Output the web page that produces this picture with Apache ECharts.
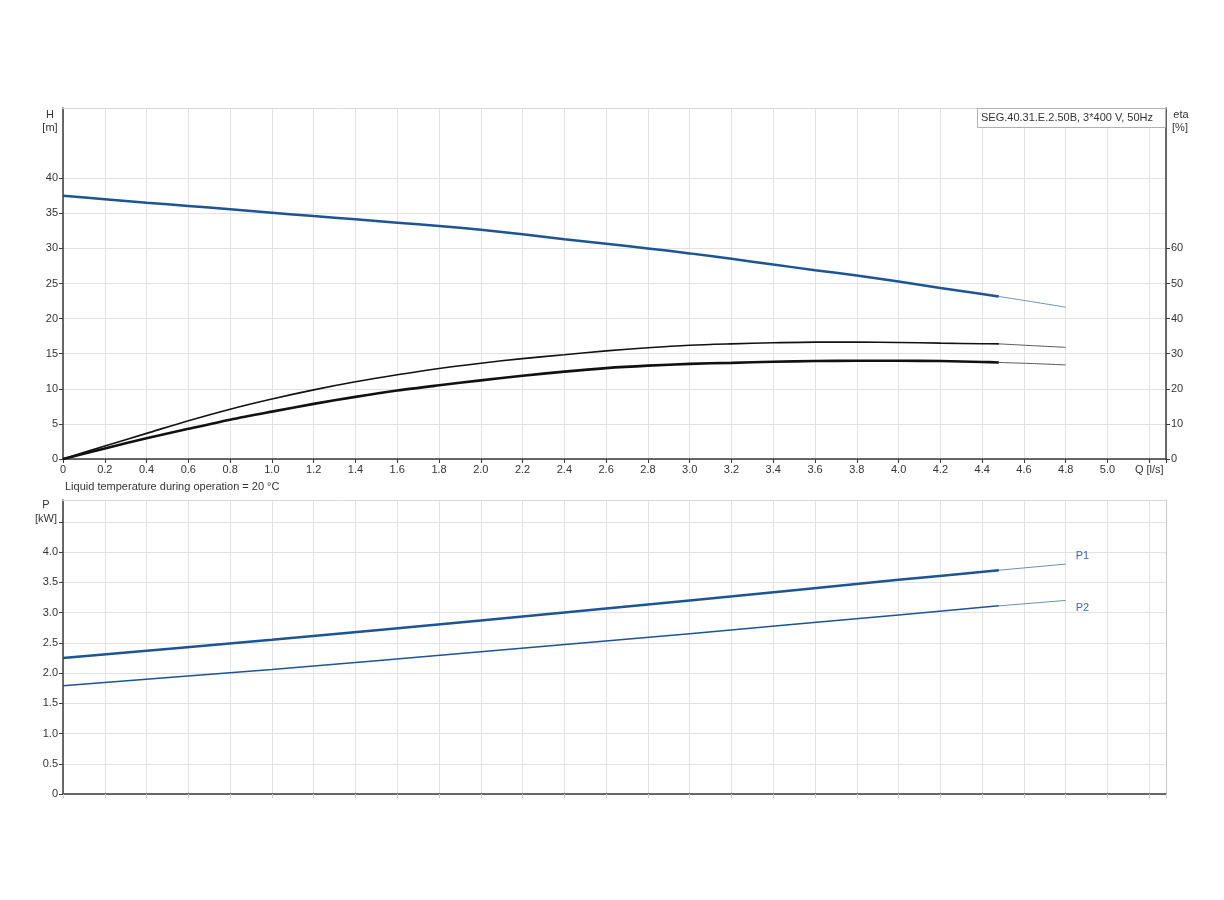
<!DOCTYPE html>
<html>
<head>
<meta charset="utf-8">
<script src="https://cdn.jsdelivr.net/npm/echarts@6/dist/echarts.min.js"></script>
<style>
html,body{margin:0;padding:0;background:#fff;}
#c{width:1224px;height:900px;}
</style>
</head>
<body>
<div id="c"></div>
<script>
// ---- data ----
const qMain = [0,0.2,0.4,0.6,0.8,1.0,1.2,1.4,1.6,1.8,2.0,2.2,2.4,2.6,2.8,3.0,3.2,3.4,3.6,3.8,4.0,4.2,4.4,4.48];
const qExt = [4.48,4.64,4.8];
const hMain = [37.5,37.0,36.5,36.05,35.57,35.09,34.6,34.14,33.66,33.19,32.65,32.0,31.3,30.66,30.0,29.29,28.51,27.7,26.9,26.14,25.29,24.37,23.51,23.15];
const hExt = [23.15,22.4,21.63];
const etaPumpMain = [0,3.7,7.3,10.9,14.2,17.1,19.7,22.0,24.0,25.8,27.3,28.6,29.7,30.8,31.7,32.4,32.8,33.1,33.3,33.3,33.2,33.0,32.85,32.8];
const etaPumpExt = [32.8,32.3,31.8];
const etaTotMain = [0,3.0,5.9,8.6,11.2,13.5,15.7,17.7,19.5,21.0,22.4,23.7,24.9,25.9,26.6,27.1,27.4,27.7,27.9,28.0,28.0,27.9,27.65,27.5];
const etaTotExt = [27.5,27.2,26.8];
const qPow = [0,1.0,2.0,3.0,4.0,4.48];
const qPowExt = [4.48,4.8];
const p1Main = [2.25,2.55,2.87,3.20,3.54,3.70];
const p1Ext = [3.70,3.80];
const p2Main = [1.79,2.06,2.35,2.65,2.96,3.11];
const p2Ext = [3.11,3.20];
const hTicks = [0,5,10,15,20,25,30,35,40];
const etaTicks = [0,10,20,30,40,50,60];
const pLabelTicks = [0,0.5,1.0,1.5,2.0,2.5,3.0,3.5,4.0];
const pTickMarks = [0,0.5,1.0,1.5,2.0,2.5,3.0,3.5,4.0,4.5];
const title = 'SEG.40.31.E.2.50B, 3*400 V, 50Hz';
const note = 'Liquid temperature during operation = 20 °C';

const zip = (a,b) => a.map((v,i)=>[v,b[i]]);
const FONT = '"Liberation Sans", Arial, sans-serif';
const BLUE = '#1d5495';
const BLUE_THIN = '#6f8fb8';
const GRID = '#e2e2e2';
const AX = '#3a3a3a';
const fmt1 = v => (Math.abs(v) < 1e-9 ? '0' : v.toFixed(1));

const chart = echarts.init(document.getElementById('c'), null, {renderer:'canvas'});

const xBase = {
  type:'value', min:0, max:5.28, interval:0.2,
  axisLine:{show:true, onZero:false, lineStyle:{color:AX, width:1.5}},
  splitLine:{show:true, lineStyle:{color:GRID, width:1}},
};

const option = {
  animation:false,
  textStyle:{fontFamily:FONT},
  grid:[
    {left:63, right:58, top:108, height:351},
    {left:63, right:58, top:500, height:294}
  ],
  xAxis:[
    Object.assign({}, xBase, {
      gridIndex:0,
      axisTick:{show:true, length:4, lineStyle:{color:AX}},
      axisLabel:{show:true, color:'#333', fontSize:11, fontFamily:FONT, margin:5,
        formatter: v => {
          if (Math.abs(v-5.2) < 1e-6) return 'Q [l/s]';
          if (v > 5.05) return '';
          return fmt1(v);
        }}
    }),
    Object.assign({}, xBase, {
      gridIndex:1,
      axisTick:{show:true, length:4, lineStyle:{color:'#cccccc'}},
      axisLabel:{show:false}
    }),
    {type:'value', gridIndex:0, min:0, max:5.28, position:'top',
      axisLine:{show:true, onZero:false, lineStyle:{color:'#d8d8d8', width:1}},
      axisTick:{show:false}, axisLabel:{show:false}, splitLine:{show:false}},
    {type:'value', gridIndex:1, min:0, max:5.28, position:'top',
      axisLine:{show:true, onZero:false, lineStyle:{color:'#d8d8d8', width:1}},
      axisTick:{show:false}, axisLabel:{show:false}, splitLine:{show:false}}
  ],
  yAxis:[
    {type:'value', gridIndex:0, min:0, max:50, interval:5, position:'left',
      axisLine:{show:true, onZero:false, lineStyle:{color:AX, width:1.5}},
      axisTick:{show:true, length:4, customValues:hTicks, lineStyle:{color:AX}},
      axisLabel:{color:'#333', fontSize:11, fontFamily:FONT, margin:5, customValues:hTicks, formatter: v => String(v)},
      splitLine:{show:true, lineStyle:{color:GRID, width:1}}
    },
    {type:'value', gridIndex:0, min:0, max:100, interval:10, position:'right',
      axisLine:{show:true, onZero:false, lineStyle:{color:AX, width:1.5}},
      axisTick:{show:true, length:4, customValues:etaTicks, lineStyle:{color:AX}},
      axisLabel:{color:'#333', fontSize:11, fontFamily:FONT, margin:5, customValues:etaTicks, formatter: v => String(v)},
      splitLine:{show:false}
    },
    {type:'value', gridIndex:1, min:0, max:4.86, interval:0.5, position:'left',
      axisLine:{show:true, onZero:false, lineStyle:{color:AX, width:1.5}},
      axisTick:{show:true, length:4, customValues:pTickMarks, lineStyle:{color:AX}},
      axisLabel:{color:'#333', fontSize:11, fontFamily:FONT, margin:5, customValues:pLabelTicks, formatter: fmt1},
      splitLine:{show:true, lineStyle:{color:GRID, width:1}}
    },
    {type:'value', gridIndex:1, min:0, max:4.86, position:'right',
      axisLine:{show:true, onZero:false, lineStyle:{color:'#c8c8c8', width:1}},
      axisTick:{show:false}, axisLabel:{show:false}, splitLine:{show:false}
    }
  ],
  graphic:[
    {type:'text', x:50, y:115, style:{text:'H', fill:'#333', font:'11px '+FONT, align:'center', verticalAlign:'middle'}},
    {type:'text', x:50, y:128, style:{text:'[m]', fill:'#333', font:'11px '+FONT, align:'center', verticalAlign:'middle'}},
    {type:'text', x:1181, y:115, style:{text:'eta', fill:'#333', font:'11px '+FONT, align:'center', verticalAlign:'middle'}},
    {type:'text', x:1180, y:128, style:{text:'[%]', fill:'#333', font:'11px '+FONT, align:'center', verticalAlign:'middle'}},
    {type:'text', x:46, y:505, style:{text:'P', fill:'#333', font:'11px '+FONT, align:'center', verticalAlign:'middle'}},
    {type:'text', x:46, y:519, style:{text:'[kW]', fill:'#333', font:'11px '+FONT, align:'center', verticalAlign:'middle'}},
    {type:'text', x:65, y:487, style:{text:note, fill:'#333', font:'11px '+FONT, align:'left', verticalAlign:'middle'}},
    {type:'rect', shape:{x:977.5, y:108.5, width:188, height:19}, style:{fill:'#fff', stroke:'#b0b0b0', lineWidth:1}, z:100},
    {type:'text', x:981, y:118, style:{text:title, fill:'#333', font:'11px '+FONT, align:'left', verticalAlign:'middle'}, z:101}
  ],
  series:[
    {name:'H', type:'line', xAxisIndex:0, yAxisIndex:0, data:zip(qMain,hMain), symbol:'none', smooth:0.2,
      lineStyle:{color:BLUE, width:2.5}},
    {name:'H ext', type:'line', xAxisIndex:0, yAxisIndex:0, data:zip(qExt,hExt), symbol:'none', smooth:0.2,
      lineStyle:{color:BLUE_THIN, width:1}},
    {name:'eta pump', type:'line', xAxisIndex:0, yAxisIndex:1, data:zip(qMain,etaPumpMain), symbol:'none', smooth:0.3,
      lineStyle:{color:'#111', width:1.6}},
    {name:'eta pump ext', type:'line', xAxisIndex:0, yAxisIndex:1, data:zip(qExt,etaPumpExt), symbol:'none', smooth:0.3,
      lineStyle:{color:'#555', width:1}},
    {name:'eta total', type:'line', xAxisIndex:0, yAxisIndex:1, data:zip(qMain,etaTotMain), symbol:'none', smooth:0.3,
      lineStyle:{color:'#111', width:2.6}},
    {name:'eta total ext', type:'line', xAxisIndex:0, yAxisIndex:1, data:zip(qExt,etaTotExt), symbol:'none', smooth:0.3,
      lineStyle:{color:'#555', width:1}},
    {name:'P1', type:'line', xAxisIndex:1, yAxisIndex:2, data:zip(qPow,p1Main), symbol:'none', smooth:0.3,
      lineStyle:{color:BLUE, width:2.5}},
    {name:'P1 ext', type:'line', xAxisIndex:1, yAxisIndex:2, data:zip(qPowExt,p1Ext), symbol:'none',
      lineStyle:{color:BLUE_THIN, width:1},
      endLabel:{show:true, formatter:'P1', color:'#3b6aa6', fontSize:11, fontFamily:FONT, offset:[2,-8]}},
    {name:'P2', type:'line', xAxisIndex:1, yAxisIndex:2, data:zip(qPow,p2Main), symbol:'none', smooth:0.3,
      lineStyle:{color:BLUE, width:1.5}},
    {name:'P2 ext', type:'line', xAxisIndex:1, yAxisIndex:2, data:zip(qPowExt,p2Ext), symbol:'none',
      lineStyle:{color:BLUE_THIN, width:1},
      endLabel:{show:true, formatter:'P2', color:'#3b6aa6', fontSize:11, fontFamily:FONT, offset:[2,8]}}
  ]
};
chart.setOption(option);
</script>
</body>
</html>
